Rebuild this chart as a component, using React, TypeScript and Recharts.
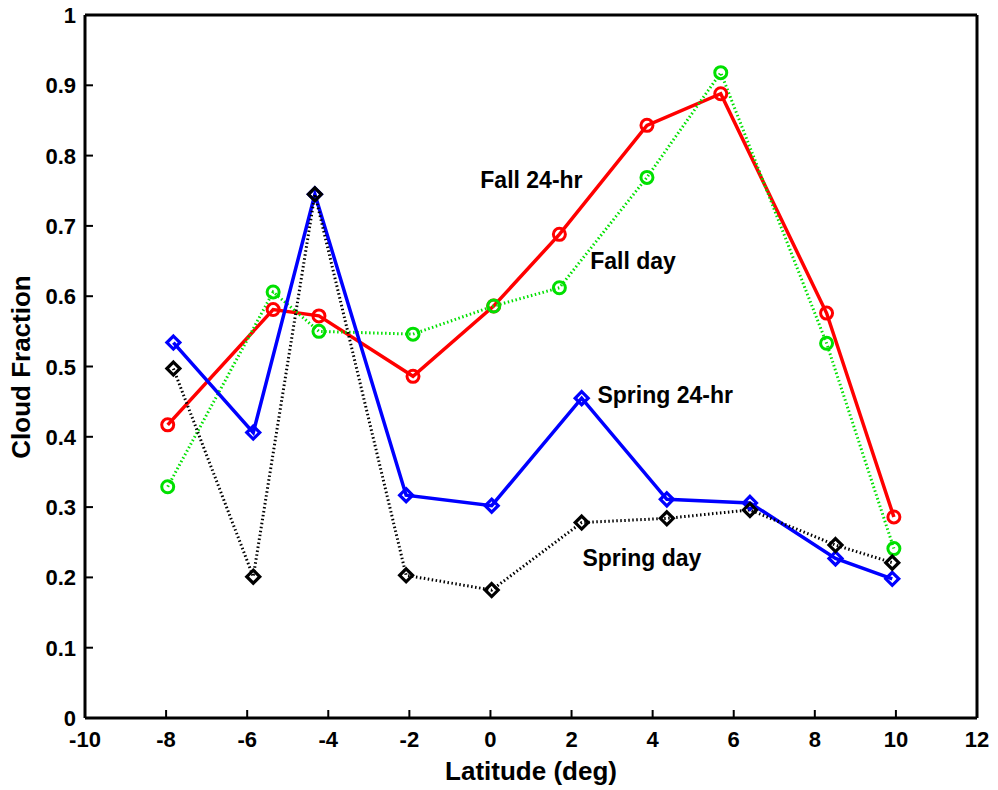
import React from 'react';
import { LineChart, Line, XAxis, YAxis, ReferenceDot } from 'recharts';

// latitude of each sample (deg); the fall and spring runs use slightly different bins
const LAT_FALL = [-7.96, -5.36, -4.23, -1.91, 0.08, 1.7, 3.86, 5.68, 8.29, 9.95];
const LAT_SPRING = [-7.82, -5.85, -4.33, -2.08, 0.03, 2.25, 4.35, 6.4, 8.51, 9.91];

// cloud fraction per series
const FALL_24HR = [0.417, 0.581, 0.572, 0.486, 0.586, 0.688, 0.843, 0.888, 0.576, 0.286];
const FALL_DAY = [0.329, 0.606, 0.55, 0.546, 0.586, 0.612, 0.769, 0.918, 0.533, 0.241];
const SPRING_24HR = [0.534, 0.406, 0.745, 0.317, 0.302, 0.455, 0.311, 0.306, 0.227, 0.198];
const SPRING_DAY = [0.497, 0.201, 0.745, 0.203, 0.182, 0.278, 0.284, 0.296, 0.246, 0.221];

const X_TICKS = [-10, -8, -6, -4, -2, 0, 2, 4, 6, 8, 10, 12];
const Y_TICKS = [0, 0.1, 0.2, 0.3, 0.4, 0.5, 0.6, 0.7, 0.8, 0.9, 1];
const Y_TICK_LABELS = ['0', '0.1', '0.2', '0.3', '0.4', '0.5', '0.6', '0.7', '0.8', '0.9', '1'];

// in-plot text labels: [text, latitude, cloud fraction] of the left/middle of each label
const ANNOTATIONS: [string, number, number][] = [
  ['Fall 24-hr', -0.25, 0.766],
  ['Fall day', 2.46, 0.651],
  ['Spring 24-hr', 2.64, 0.46],
  ['Spring day', 2.27, 0.228],
];

const toPoints = (lats: number[], vals: number[]) =>
  lats.map((lat, i) => ({ lat, value: vals[i] }));

const FONT = '"Liberation Sans", Arial, Helvetica, sans-serif';
const TICK_LEN = 8;
const AXIS_STYLE = { stroke: '#000', strokeWidth: 3 };

const circleDot = (color: string) => (props: any) => (
  <circle
    key={`c-${props.index}`}
    cx={props.cx}
    cy={props.cy}
    r={6}
    fill="none"
    stroke={color}
    strokeWidth={3}
  />
);

const diamondDot = (color: string) => (props: any) => {
  const { cx, cy, index } = props;
  const h = 6.5;
  return (
    <path
      key={`d-${index}`}
      d={`M${cx},${cy - h}L${cx + h},${cy}L${cx},${cy + h}L${cx - h},${cy}Z`}
      fill="none"
      stroke={color}
      strokeWidth={3.2}
    />
  );
};

// tick renderers draw the inward tick mark and the label
const BottomTick = ({ x, y, payload }: any) => (
  <g>
    <line x1={x} y1={y} x2={x} y2={y - TICK_LEN} stroke="#000" strokeWidth={2} />
    <text x={x} y={y + 29} textAnchor="middle" fontSize={22} fontWeight="bold" fill="#000" fontFamily={FONT}>
      {payload.value}
    </text>
  </g>
);

const LeftTick = ({ x, y, payload, index }: any) => (
  <g>
    <line x1={x} y1={y} x2={x + TICK_LEN} y2={y} stroke="#000" strokeWidth={2} />
    <text x={x - 9} y={y + 8} textAnchor="end" fontSize={22} fontWeight="bold" fill="#000" fontFamily={FONT}>
      {Y_TICK_LABELS[index] ?? payload.value}
    </text>
  </g>
);

const TopTick = ({ x, y }: any) => (
  <line x1={x} y1={y} x2={x} y2={y + TICK_LEN} stroke="#000" strokeWidth={2} />
);

const RightTick = ({ x, y }: any) => (
  <line x1={x} y1={y} x2={x - TICK_LEN} y2={y} stroke="#000" strokeWidth={2} />
);

export default function App() {
  const fall24 = toPoints(LAT_FALL, FALL_24HR);
  const fallDay = toPoints(LAT_FALL, FALL_DAY);
  const spring24 = toPoints(LAT_SPRING, SPRING_24HR);
  const springDay = toPoints(LAT_SPRING, SPRING_DAY);

  return (
    <div style={{ position: 'absolute', left: 0, top: 0, width: 998, height: 790, background: '#fff' }}>
      <LineChart
        width={998}
        height={790}
        margin={{ top: 14, right: 20, bottom: 0, left: 25 }}
        style={{ fontFamily: FONT }}
      >
        <XAxis
          type="number"
          dataKey="lat"
          domain={[-10, 12]}
          ticks={X_TICKS}
          interval={0}
          allowDataOverflow
          height={72}
          tickSize={0}
          tickMargin={0}
          tickLine={false}
          axisLine={AXIS_STYLE}
          tick={<BottomTick />}
          label={{
            content: () => (
              <text x={531} y={780} textAnchor="middle" fontSize={26} fontWeight="bold" fill="#000" fontFamily={FONT}>
                Latitude (deg)
              </text>
            ),
          }}
        />
        <XAxis
          xAxisId="top"
          orientation="top"
          type="number"
          domain={[-10, 12]}
          ticks={X_TICKS}
          interval={0}
          height={1}
          tickSize={0}
          tickMargin={0}
          tickLine={false}
          axisLine={AXIS_STYLE}
          tick={<TopTick />}
        />
        <YAxis
          type="number"
          domain={[0, 1]}
          ticks={Y_TICKS}
          interval={0}
          allowDataOverflow
          width={60}
          tickSize={0}
          tickMargin={0}
          tickLine={false}
          axisLine={AXIS_STYLE}
          tick={<LeftTick />}
          label={{
            content: () => (
              <text
                x={30}
                y={367}
                transform="rotate(-90, 30, 367)"
                textAnchor="middle"
                fontSize={26}
                fontWeight="bold"
                fill="#000"
                fontFamily={FONT}
              >
                Cloud Fraction
              </text>
            ),
          }}
        />
        <YAxis
          yAxisId="right"
          orientation="right"
          type="number"
          domain={[0, 1]}
          ticks={Y_TICKS}
          interval={0}
          width={1}
          tickSize={0}
          tickMargin={0}
          tickLine={false}
          axisLine={AXIS_STYLE}
          tick={<RightTick />}
        />

        <Line
          data={fall24}
          dataKey="value"
          stroke="#ff0000"
          strokeWidth={3.5}
          dot={circleDot('#ff0000')}
          activeDot={false}
          isAnimationActive={false}
        />
        <Line
          data={fallDay}
          dataKey="value"
          stroke="#00e000"
          strokeWidth={3}
          strokeDasharray="1.5 2.5"
          dot={circleDot('#00e000')}
          activeDot={false}
          isAnimationActive={false}
        />
        <Line
          data={spring24}
          dataKey="value"
          stroke="#0000ff"
          strokeWidth={3.5}
          dot={diamondDot('#0000ff')}
          activeDot={false}
          isAnimationActive={false}
        />
        <Line
          data={springDay}
          dataKey="value"
          stroke="#000"
          strokeWidth={3}
          strokeDasharray="1.5 2.5"
          dot={diamondDot('#000')}
          activeDot={false}
          isAnimationActive={false}
        />

        {ANNOTATIONS.map(([text, lat, val]) => (
          <ReferenceDot
            key={text}
            x={lat}
            y={val}
            r={0}
            fill="none"
            stroke="none"
            label={{
              value: text,
              position: 'right',
              offset: 0,
              fill: '#000',
              fontSize: 23,
              fontWeight: 'bold',
              fontFamily: FONT,
            }}
          />
        ))}
      </LineChart>
    </div>
  );
}
